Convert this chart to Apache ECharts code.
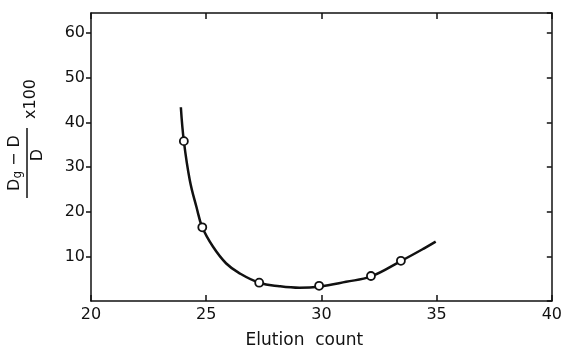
<!DOCTYPE html>
<html>
<head>
<meta charset="utf-8">
<script src="https://cdn.jsdelivr.net/npm/echarts@6/dist/echarts.min.js"></script>
<style>
  html, body { margin: 0; padding: 0; background: #fff; }
  #chart { width: 565px; height: 354px; }
</style>
</head>
<body>
<div id="chart"></div>
<script>
// measured points (open circles)
var pointX = [24.03, 24.83, 27.3, 29.9, 32.15, 33.45];
var pointY = [35.8, 16.5, 4.1, 3.4, 5.6, 9.0];

// fitted curve
var curveX = [23.9, 24.03, 24.29, 24.58, 24.83, 25.29, 25.87, 26.45, 27.3, 28.18, 29.05, 29.9, 31.07, 32.15, 33.45, 34.46, 34.96];
var curveY = [43.4, 35.8, 27.0, 21.0, 16.5, 12.2, 8.4, 6.2, 4.1, 3.3, 2.95, 3.2, 4.3, 5.5, 8.95, 11.8, 13.3];

var xMin = 20, xMax = 40, xStep = 5;
var yMin = 0, yMax = 64.5, yStep = 10;

var font = "DejaVu Sans";
var chart = echarts.init(document.getElementById("chart"));

var pairs = function (xs, ys) {
  return xs.map(function (x, i) { return [x, ys[i]]; });
};

var axisLine = { show: true, onZero: false, lineStyle: { color: "#111", width: 1.5 } };

var option = {
  animation: false,
  grid: { left: 91, right: 12, top: 13, bottom: 51 },
  xAxis: [
    {
      type: "value",
      min: xMin, max: xMax, interval: xStep,
      axisLine: axisLine,
      axisTick: { inside: true, length: 6, lineStyle: { color: "#111", width: 1.5 } },
      axisLabel: { color: "#111", fontFamily: font, fontSize: 16, margin: 6 },
      splitLine: { show: false },
      name: "Elution  count",
      nameLocation: "middle",
      nameGap: 31,
      nameTextStyle: { color: "#111", fontFamily: font, fontSize: 17, padding: [0, 34, 0, 0] }
    },
    {
      type: "value",
      position: "top",
      min: xMin, max: xMax, interval: xStep,
      axisLine: axisLine,
      axisTick: { inside: true, length: 6, lineStyle: { color: "#111", width: 1.5 } },
      axisLabel: { show: false },
      splitLine: { show: false }
    }
  ],
  yAxis: [
    {
      type: "value",
      min: yMin, max: yMax, interval: yStep,
      axisLine: axisLine,
      axisTick: { show: true, inside: false, length: 5, lineStyle: { color: "#111", width: 1.5 } },
      axisLabel: {
        color: "#111", fontFamily: font, fontSize: 16, margin: 6,
        showMinLabel: false, showMaxLabel: false
      },
      splitLine: { show: false }
    },
    {
      type: "value",
      position: "right",
      min: yMin, max: yMax, interval: yStep,
      axisLine: axisLine,
      axisTick: { show: true, inside: true, length: 5, lineStyle: { color: "#111", width: 1.5 } },
      axisLabel: { show: false },
      splitLine: { show: false }
    }
  ],
  graphic: [
    {
      // y axis title: (Dg - D) / D x100, rotated
      type: "group",
      x: 27, y: 163,
      rotation: Math.PI / 2,
      children: [
        {
          type: "line",
          shape: { x1: -35, y1: 0, x2: 35, y2: 0 },
          style: { stroke: "#111", lineWidth: 1.5 }
        },
        {
          type: "text",
          x: 0, y: -3,
          style: {
            text: "{a|D}{b|g}{a| − D}",
            align: "center",
            verticalAlign: "bottom",
            fill: "#111",
            rich: {
              a: { fontFamily: font, fontSize: 16, fill: "#111", lineHeight: 18 },
              b: { fontFamily: font, fontSize: 12, fill: "#111", lineHeight: 18, padding: [6, 0, 0, 0] }
            }
          }
        },
        {
          type: "text",
          x: 8, y: 3,
          style: {
            text: "D",
            align: "center",
            verticalAlign: "top",
            fill: "#111",
            font: "16px " + font
          }
        },
        {
          type: "text",
          x: 44, y: 4,
          style: {
            text: "x100",
            align: "left",
            verticalAlign: "middle",
            fill: "#111",
            font: "16px " + font
          }
        }
      ]
    }
  ],
  series: [
    {
      type: "line",
      data: pairs(curveX, curveY),
      smooth: 0.4,
      showSymbol: false,
      lineStyle: { color: "#111", width: 2.5 },
      z: 2
    },
    {
      type: "scatter",
      data: pairs(pointX, pointY),
      symbol: "circle",
      symbolSize: 8,
      itemStyle: { color: "#fff", opacity: 1, borderColor: "#111", borderWidth: 1.8 },
      z: 3
    }
  ]
};

chart.setOption(option);
</script>
</body>
</html>
